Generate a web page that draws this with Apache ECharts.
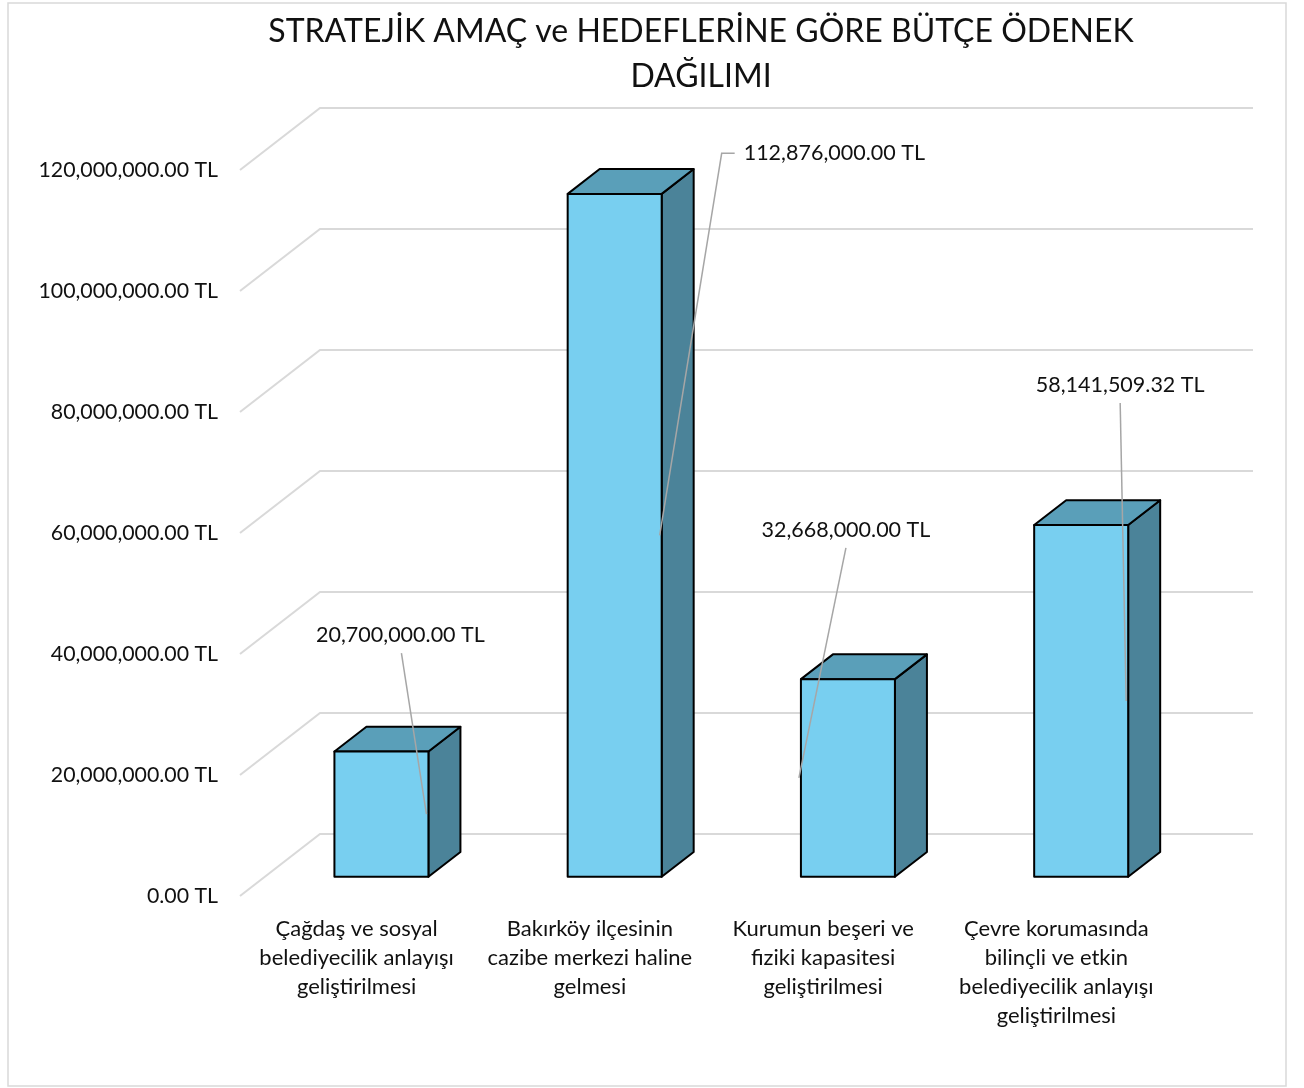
<!DOCTYPE html>
<html>
<head>
<meta charset="utf-8">
<script src="https://cdn.jsdelivr.net/npm/echarts@6/dist/echarts.min.js"></script>
<style>
  html, body { margin: 0; padding: 0; background: #fff; }
  #chart { width: 1304px; height: 1088px; }
</style>
</head>
<body>
<div id="chart"></div>
<script>
// ======================
// DATA
// ======================
const categories = [
    'Çağdaş ve sosyal\nbelediyecilik anlayışı\ngeliştirilmesi',
    'Bakırköy ilçesinin\ncazibe merkezi haline\ngelmesi',
    'Kurumun beşeri ve\nfiziki kapasitesi\ngeliştirilmesi',
    'Çevre korumasında\nbilinçli ve etkin\nbelediyecilik anlayışı\ngeliştirilmesi'
];
const budgetValues = [20700000, 112876000, 32668000, 58141509.32];
const yTicks = [0, 20000000, 40000000, 60000000, 80000000, 100000000, 120000000];

// ======================
// LOOK
// ======================
const FONT = 'Lato, "Open Sans", sans-serif';
const DEPTH = { x: 80, y: 62 };      // floor depth in pixels
const BAR_FRONT = 0.31;              // bar front plane (fraction of depth)
const BAR_BACK = 0.71;               // bar back plane
const BAR_WIDTH_RATIO = 0.403;
const COLORS = { front: '#78cff0', top: '#5a9fb9', side: '#4b8399', edge: '#000', grid: '#d9d9d9', leader: '#a6a6a6' };

// label placement relative to the bar edge at mid height
const labelLayout = [
    { edge: 'right', tx: -26, ty: -179, align: 'center', lx: -25, ly: -161 },
    { edge: 'right', tx: 84, ty: -382, align: 'left', lx: 62, ly: -382, hook: 13 },
    { edge: 'left', tx: 47, ty: -248, align: 'center', lx: 47, ly: -230 },
    { edge: 'right', tx: -6, ty: -316, align: 'center', lx: -6, ly: -298 }
];

const fmtTL = v => v.toLocaleString('en-US', { minimumFractionDigits: 2, maximumFractionDigits: 2 }) + ' TL';

// ======================
// RENDERERS
// ======================
function renderGridLine(params, api) {
    const cs = params.coordSys;
    const y = api.coord([0, api.value(0)])[1];
    return {
        type: 'polyline',
        shape: { points: [[cs.x, y], [cs.x + DEPTH.x, y - DEPTH.y], [cs.x + cs.width + DEPTH.x, y - DEPTH.y]] },
        style: { stroke: COLORS.grid, lineWidth: 2, fill: null }
    };
}

function renderBar(params, api) {
    const idx = api.value(0);
    const top = api.coord([idx, api.value(1)]);
    const base = api.coord([idx, 0]);
    const w = api.size([1, 0])[0] * BAR_WIDTH_RATIO;

    const fx = BAR_FRONT * DEPTH.x, fy = -BAR_FRONT * DEPTH.y;
    const bx = BAR_BACK * DEPTH.x, by = -BAR_BACK * DEPTH.y;

    const L1 = top[0] - w / 2 + fx, R1 = top[0] + w / 2 + fx;
    const T1 = top[1] + fy, B1 = base[1] + fy;
    const L2 = top[0] - w / 2 + bx, R2 = top[0] + w / 2 + bx;
    const T2 = top[1] + by, B2 = base[1] + by;

    const edgeStyle = { stroke: COLORS.edge, lineWidth: 2, lineJoin: 'round' };
    const children = [
        { type: 'polygon', shape: { points: [[R1, T1], [R2, T2], [R2, B2], [R1, B1]] },
          style: Object.assign({ fill: COLORS.side }, edgeStyle) },
        { type: 'polygon', shape: { points: [[L1, T1], [R1, T1], [R2, T2], [L2, T2]] },
          style: Object.assign({ fill: COLORS.top }, edgeStyle) },
        { type: 'rect', shape: { x: L1, y: T1, width: R1 - L1, height: B1 - T1 },
          style: Object.assign({ fill: COLORS.front }, edgeStyle) }
    ];

    // data label + leader line
    const lay = labelLayout[params.dataIndex];
    const ax = lay.edge === 'right' ? R1 - 2 : L1 - 2;
    const ay = (T1 + B1) / 2;
    const pts = [[ax, ay], [ax + lay.lx, ay + lay.ly]];
    if (lay.hook) pts.push([ax + lay.lx + lay.hook, ay + lay.ly]);
    children.push({
        type: 'polyline',
        shape: { points: pts },
        style: { stroke: COLORS.leader, lineWidth: 1.5, fill: null }
    });
    children.push({
        type: 'text',
        style: {
            x: ax + lay.tx, y: ay + lay.ty,
            text: fmtTL(api.value(1)),
            fill: '#111', font: '21.5px ' + FONT,
            textAlign: lay.align, textVerticalAlign: 'middle'
        }
    });

    return { type: 'group', children };
}

// ======================
// CHART
// ======================
const chart = echarts.init(document.getElementById('chart'));

chart.setOption({
    animation: false,
    backgroundColor: '#fff',
    graphic: [
        { type: 'rect', shape: { x: 8, y: 3, width: 1278, height: 1083 },
          style: { fill: null, stroke: '#d9d9d9', lineWidth: 1.5 }, z: -10 },
        { type: 'text', x: 701, y: 54,
          style: { text: 'STRATEJİK AMAÇ ve HEDEFLERİNE GÖRE BÜTÇE ÖDENEK\nDAĞILIMI',
                   font: '32px ' + FONT, fill: '#111', textAlign: 'center',
                   textVerticalAlign: 'middle', lineHeight: 45 } }
    ],
    grid: { left: 240, right: 131, top: 170, bottom: 192 },
    xAxis: {
        type: 'category',
        data: categories,
        axisLine: { show: false },
        axisTick: { show: false },
        axisLabel: { margin: 18, fontSize: 22, fontFamily: FONT, color: '#111', lineHeight: 29, interval: 0 }
    },
    yAxis: {
        type: 'value',
        min: 0, max: 120000000, interval: 20000000,
        axisLine: { show: false },
        axisTick: { show: false },
        splitLine: { show: false },
        axisLabel: { margin: 22, fontSize: 21.3, fontFamily: FONT, color: '#111', formatter: fmtTL }
    },
    series: [
        {
            type: 'custom',
            renderItem: renderGridLine,
            data: yTicks.map(v => [v]),
            encode: { y: 0 },
            z: 1,
            silent: true
        },
        {
            type: 'custom',
            renderItem: renderBar,
            data: budgetValues.map((v, i) => [i, v]),
            encode: { x: 0, y: 1 },
            z: 2
        }
    ]
});
</script>
</body>
</html>
